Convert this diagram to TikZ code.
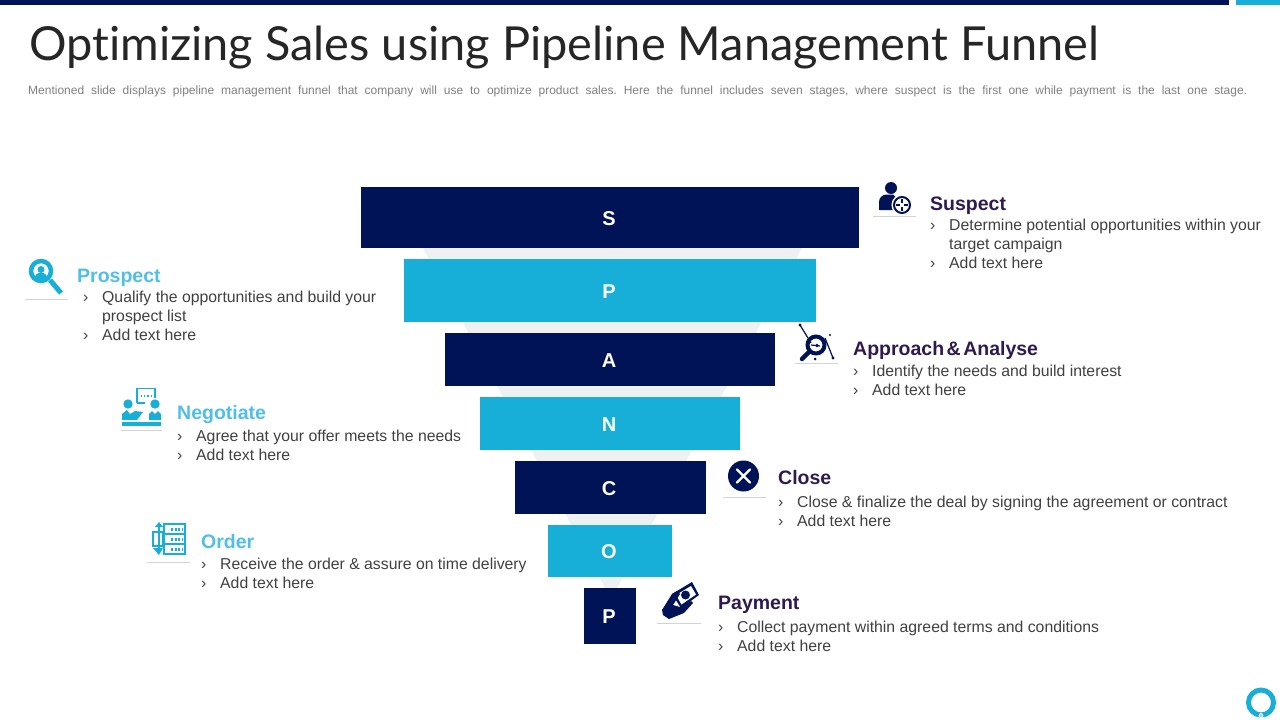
\documentclass[tikz,border=0pt]{standalone}
\usepackage{fontspec}
\setmainfont{Liberation Sans}
\newfontfamily\titlefont[Ligatures=NoCommon]{Lato}
\definecolor{navybar}{HTML}{001356}
\definecolor{skybar}{HTML}{17AFD8}
\definecolor{plumtext}{HTML}{2E1A4F}
\definecolor{skytext}{HTML}{50BFE6}
\definecolor{bodytext}{HTML}{404040}
\definecolor{funnelgrey}{HTML}{EFF0F2}
\definecolor{rulegrey}{HTML}{D4D4D4}
\newcommand{\itm}{\makebox[19pt][l]{›}}
\tikzset{
  stagebar/.style={minimum width=#1, inner sep=0pt, text=white,
    font=\bfseries\fontsize{20}{24}\selectfont},
  stagehead/.style={anchor=base west, inner sep=0pt,
    font=\bfseries\fontsize{19.5}{24}\selectfont},
  stagetext/.style={anchor=north west, inner sep=0pt, align=left, text=bodytext,
    font=\fontsize{15.8}{19}\selectfont},
  iconrule/.style={draw=rulegrey, line width=0.7pt},
}
\begin{document}
\frenchspacing
\begin{tikzpicture}[x=1pt,y=-1pt]
  \useasboundingbox (0,0) rectangle (1280,720);
  \fill[navybar] (0,0) rectangle (1229,5);
  \fill[skybar] (1236,0) rectangle (1280,5);
  % heading
  \node[anchor=base west, inner sep=0pt, text=black!85, font=\titlefont\fontsize{46.9}{50}\selectfont] (title) at (29,60)
    {Optimizing Sales using Pipeline Management Funnel};
  \node[anchor=base west, inner sep=0pt, text=black!50, font=\fontsize{12}{14}\selectfont] (subtitle) at (28,94.5)
    {\makebox[1219pt][s]{Mentioned slide displays pipeline management funnel that company will use to optimize product sales. Here the funnel includes seven stages, where suspect is the first one while payment is the last one stage.}};
  % funnel
  \fill[funnelgrey] (423,248) -- (802,248) -- (617,588) -- (605,588) -- cycle;
  \foreach \name/\letter/\cy/\barw/\barh/\col in {
      barS/S/217.5/498/61/navybar, barP/P/290.5/412/63/skybar,
      barA/A/359.5/330/53/navybar, barN/N/423.5/260/53/skybar,
      barC/C/487.5/191/53/navybar, barO/O/551/124/52/skybar,
      barPay/P/616/52/56/navybar}
    \node[stagebar=\barw pt, minimum height=\barh pt, fill=\col] (\name) at (610,\cy) {\kern-2pt\raisebox{-1pt}[\height][0pt]{\letter}};
  % right side
  \node[stagehead, text=plumtext] (suspect) at (930,210) {Suspect};
  \node[stagetext] (suspecttext) at (930,218.5) {\itm Determine potential opportunities within your\\\hspace*{19pt}target campaign\\\itm Add text here};
  \node[stagehead, text=plumtext] (approach) at (853,355) {Approach\hspace{2.5pt}\&\hspace{2.5pt}Analyse};
  \node[stagetext] (approachtext) at (853,364.5) {\itm Identify the needs and build interest\\\itm Add text here};
  \node[stagehead, text=plumtext] (close) at (778,484) {Close};
  \node[stagetext] (closetext) at (778,495.5) {\itm Close \& finalize the deal by signing the agreement or contract\\\itm Add text here};
  \node[stagehead, text=plumtext] (payment) at (718,609) {Payment};
  \node[stagetext] (paymenttext) at (718,620.5) {\itm Collect payment within agreed terms and conditions\\\itm Add text here};
  % left side
  \node[stagehead, text=skytext] (prospect) at (77,282) {Prospect};
  \node[stagetext] (prospecttext) at (83,290.5) {\itm Qualify the opportunities and build your\\\hspace*{19pt}prospect list\\\itm Add text here};
  \node[stagehead, text=skytext] (negotiate) at (177,419) {Negotiate};
  \node[stagetext] (negotiatetext) at (177,429.5) {\itm Agree that your offer meets the needs\\\itm Add text here};
  \node[stagehead, text=skytext] (order) at (201,548) {Order};
  \node[stagetext] (ordertext) at (201,557.5) {\itm Receive the order \& assure on time delivery\\\itm Add text here};
  % icon rules
  \foreach \xa/\xb/\ya in {873/916/216, 795/838/363, 723/766/497, 657/701/623,
      25/68/299, 121/162/430, 147/190/562}
    \draw[iconrule] (\xa,\ya) -- (\xb,\ya);
  % suspect icon
  \fill[navybar] (891,188) circle (6);
  \fill[navybar] (879,210) -- (879,202) arc[start angle=180, end angle=90, radius=7.5pt] -- (893,194.5) -- (899,200) -- (893,210) -- cycle;
  \draw[navybar, fill=white, line width=2pt, preaction={draw=white, line width=5pt}] (902,205) circle (8);
  \draw[navybar, line width=1.2pt] (902,199) -- (902,203) (902,207) -- (902,211) (896,205) -- (900,205) (904,205) -- (908,205);
  % approach icon
  \draw[navybar, line width=1.2pt] (800,325) -- (811,343) (825,338) -- (833,358);
  \draw[navybar, line width=4pt] (816,345) circle (8.5);
  \draw[navybar, line width=4.5pt, line cap=round] (809,352) -- (802,359);
  \draw[navybar, line width=1.2pt] (811,345) -- (820,346);
  \fill[navybar] (800,325) circle (1.7) (833,358) circle (1.7) (815,359) circle (1.5) (817,345.5) circle (1.8) (830,335) circle (1.2);
  % close icon
  \fill[navybar] (743.5,476) circle (15.5);
  \draw[white, line width=2.4pt, line cap=round] (737,469.5) -- (750,482.5) (750,469.5) -- (737,482.5);
  % payment icon
  \fill[navybar] (692,582) -- (699,595) -- (681,608) -- (672,594) -- cycle;
  \fill[white] (691,586) -- (696,594.5) -- (681.5,604.5) -- (676,595) -- cycle;
  \fill[navybar] (685.5,595) circle (4.5);
  \fill[navybar] (662,610) -- (672,594) -- (677,591) -- (680,594) -- (673,605) -- (680,607) -- (691,601) -- (693,603) -- (684,613) -- (669,619) -- (663,615) -- cycle;
  % prospect icon
  \draw[skybar, line width=4.5pt] (41,271) circle (10);
  \fill[skybar] (41,269.5) circle (3.5);
  \fill[skybar] (34.5,279) arc[start angle=180, end angle=0, radius=6.5pt] -- cycle;
  \draw[skybar, line width=5pt] (50,280) -- (61,293);
  % negotiate icon
  \draw[skybar, line width=1.5pt] (137,403) -- (137,388.5) -- (155,388.5) -- (155,398) (145,403) -- (137,403);
  \draw[skybar, line width=1.2pt, dotted] (141,396) -- (151,396);
  \fill[skybar] (128,404) circle (4.7) (155,404) circle (4.7);
  \fill[skybar] (122,420) -- (122,414) -- (127,410) -- (130,414) -- (135,411) -- (143,412) -- (137,420) -- cycle;
  \fill[skybar] (149,420) -- (149,414) -- (152,411) -- (155,414) -- (158,411) -- (161,414) -- (161,420) -- cycle;
  \fill[skybar] (122,421.5) rectangle (161,425.5);
  % order icon
  \draw[skybar, line width=1.5pt] (164,524) rectangle (185,534) (164,534) rectangle (185,544) (164,544) rectangle (185,554);
  \foreach \ya in {529,539,549}
    \draw[skybar, line width=3pt, dash pattern=on 2pt off 1.5pt] (171,\ya) -- (182,\ya);
  \draw[skybar, line width=1.5pt] (159,526) -- (159,549) (153,532) rectangle (163,546);
  \fill[skybar] (155,527) -- (159,522) -- (163,527) -- cycle (153,548) -- (159,555) -- (163,548) -- cycle;
  % logo
  \draw[skybar, line width=5pt] (1261,702.5) circle (12.5);
  \draw[white, fill=skybar!40, line width=0.6pt] (1261,715.5) circle (2);
\end{tikzpicture}
\end{document}
